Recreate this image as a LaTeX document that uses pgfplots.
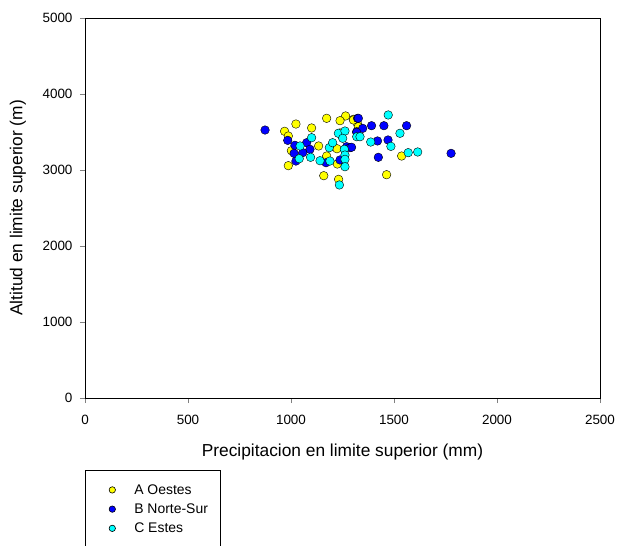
\documentclass[border=0pt]{standalone}
\usepackage{fontspec}
\setmainfont{Liberation Sans}
\usepackage{pgfplots}
\pgfplotsset{compat=1.18}
\definecolor{cyel}{RGB}{255,255,0}
\definecolor{cblu}{RGB}{0,0,255}
\definecolor{ccya}{RGB}{0,255,255}
\begin{document}
\begin{tikzpicture}
\begin{axis}[
  at={(0,0)}, anchor=south west,
  scale only axis, width=515bp, height=380bp,
  xmin=0, xmax=2500, ymin=0, ymax=5000,
  xtick={0,500,...,2500}, ytick={0,1000,...,5000},
  tick align=outside, xtick pos=bottom, ytick pos=left,
  major tick length=5bp,
  scaled ticks=false,
  /pgf/number format/assume math mode=true,
  /pgf/number format/1000 sep={},
  tick label style={font=\fontsize{13.5}{15}\selectfont},
  xticklabel style={yshift=-9bp},
  yticklabel style={xshift=-4bp},
  xlabel={Precipitacion en limite superior (mm)},
  ylabel={Altitud en limite superior (m)},
  label style={font=\fontsize{17.4}{20}\selectfont},
  xlabel style={at={(rel axis cs:0.5,0)}, anchor=center, yshift=-54bp},
  ylabel style={at={(rel axis cs:0,0.5)}, anchor=center, yshift=67bp},
  axis line style={line width=0.7pt},
  legend style={at={(rel axis cs:0.0,-0.1895)}, anchor=north west, draw=black, line width=0.6pt,
    font=\fontsize{14}{16}\selectfont, inner xsep=10bp, inner ysep=12bp, row sep=4bp},
  legend cell align=left,
  legend image code/.code={\path[draw=none, fill=none] (0bp,-2bp) rectangle (37bp,2bp); \draw[mark size=3.2bp] plot coordinates {(17bp,0bp)};},
  every axis plot/.append style={only marks, mark=*, mark size=4.3bp, mark options={draw=black, line width=0.6pt}},
]
\addplot[mark options={fill=cyel}] coordinates {
(1173,3680) (1265,3711) (1238,3649) (1024,3605) (969,3509) (1100,3553)
(987,3447) (1134,3316) (1002,3254) (987,3057) (1173,3184) (1225,3079)
(1159,2925) (1231,2877) (1303,3667) (1325,3592) (1238,3487) (1223,3280)
(1303,3658) (1327,3570) (1537,3184) (1464,2938)
};
\addlegendentry{A Oestes}
\addplot[mark options={fill=cblu}] coordinates {
(874,3526) (984,3390) (1019,3325) (1076,3359) (1092,3272) (1015,3219)
(1057,3228) (1024,3118) (1170,3096) (1238,3132) (1270,3307) (1286,3294)
(1319,3504) (1323,3680) (1327,3680) (1348,3548) (1319,3496) (1391,3583)
(1451,3583) (1561,3583) (1420,3382) (1471,3395) (1424,3167) (1294,3299)
(1777,3219)
};
\addlegendentry{B Norte-Sur}
\addplot[mark options={fill=ccya}] coordinates {
(1100,3425) (1044,3316) (1040,3149) (1095,3167) (1141,3122) (1189,3118)
(1186,3294) (1202,3359) (1230,3483) (1262,3513) (1251,3417) (1259,3272)
(1262,3197) (1262,3140) (1262,3043) (1235,2803) (1319,3438) (1472,3724)
(1335,3438) (1387,3368) (1529,3483) (1485,3311) (1569,3228) (1615,3237)
};
\addlegendentry{C Estes}
\addlegendimage{empty legend}
\addlegendentry{}
\end{axis}
\pgfresetboundingbox
\path (-85bp,-148bp) rectangle (533bp,398bp);
\end{tikzpicture}
\end{document}
